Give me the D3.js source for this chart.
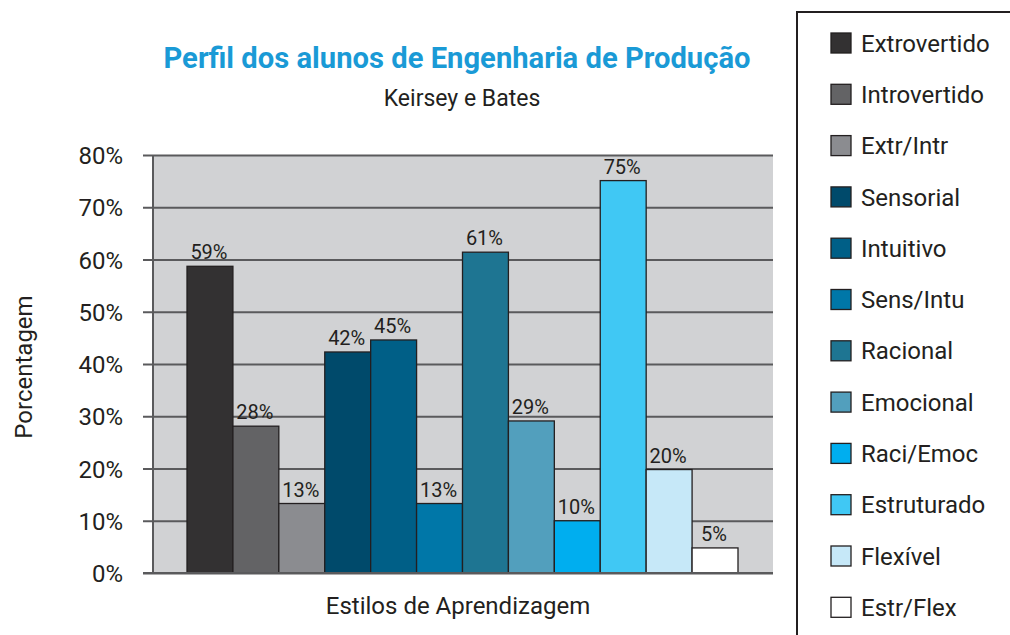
<!DOCTYPE html>
<html>
<head>
<meta charset="utf-8">
<script src="https://cdn.jsdelivr.net/npm/d3@7"></script>
<style>
  body { margin: 0; background: #fff; }
  text { font-family: Roboto, "Liberation Sans", sans-serif; }
</style>
</head>
<body>
<div id="chart"></div>
<script>
// estilos de aprendizagem (Keirsey e Bates)
var categories = ['Extrovertido', 'Introvertido', 'Extr/Intr', 'Sensorial', 'Intuitivo', 'Sens/Intu',
                  'Racional', 'Emocional', 'Raci/Emoc', 'Estruturado', 'Flexível', 'Estr/Flex']
var values = [58.7, 28.1, 13.3, 42.3, 44.6, 13.3, 61.4, 29.1, 10, 75.1, 19.8, 4.8]
var colors = ['#333132', '#636365', '#8b8c90', '#004a6b', '#005f87', '#0077a8',
              '#1e7592', '#529fbd', '#00aeef', '#40c8f4', '#c6e8f8', '#ffffff']
var yTicks = [0, 10, 20, 30, 40, 50, 60, 70, 80]

var w = 1010, h = 635

var svg = d3.select('#chart').append('svg').attr('width', w).attr('height', h)

var plotL = 153, plotR = 773, plotT = 155, plotB = 573

var y = d3.scaleLinear().domain([0, 80]).range([plotB, plotT])
var x = d3.scaleBand().domain(categories).range([187, 738]).padding(0)

// plot background
svg.append('rect').attr('x', plotL).attr('y', plotT).attr('width', plotR - plotL).attr('height', plotB - plotT)
  .attr('fill', '#d1d2d4')

// gridlines + ticks
var yAxis = d3.axisLeft(y).tickValues(yTicks).tickSize(-(plotR - plotL) - 10).tickPadding(22)
  .tickFormat(function (d) { return d + '%' })
var gy = svg.append('g').attr('transform', 'translate(' + plotR + ',0)')
gy.call(yAxis)
gy.select('.domain').remove()
gy.selectAll('.tick line').attr('x1', -(plotR - plotL) - 10).attr('x2', 0)
  .attr('stroke', '#5a5a5c').attr('stroke-width', 2)
gy.selectAll('.tick text').attr('x', -(plotR - plotL) - 30).attr('dy', '0.36em')
  .attr('font-size', 24).attr('fill', '#231f20')

// left border
svg.append('line').attr('x1', plotL).attr('x2', plotL).attr('y1', plotT).attr('y2', plotB)
  .attr('stroke', '#5a5a5c').attr('stroke-width', 2)

// bars
svg.append('g').selectAll('rect').data(values).enter().append('rect')
  .attr('x', function (d, i) { return x(categories[i]) })
  .attr('y', function (d) { return y(d) })
  .attr('width', x.bandwidth())
  .attr('height', function (d) { return plotB - y(d) })
  .attr('fill', function (d, i) { return colors[i] })
  .attr('stroke', '#231f20').attr('stroke-width', 1.3)

// value labels
svg.append('g').selectAll('text').data(values).enter().append('text')
  .attr('x', function (d, i) { return x(categories[i]) + x.bandwidth() / 2 - 1 })
  .attr('y', function (d) { return y(d) - 7 })
  .attr('text-anchor', 'middle').attr('font-size', 20).attr('fill', '#231f20')
  .text(function (d) { return Math.round(d) + '%' })

// baseline
svg.append('line').attr('x1', plotL - 10).attr('x2', plotR).attr('y1', plotB).attr('y2', plotB)
  .attr('stroke', '#5a5a5c').attr('stroke-width', 2)

// titles
svg.append('text').attr('x', 457).attr('y', 68).attr('text-anchor', 'middle')
  .attr('font-size', 29).attr('font-weight', 'bold').attr('fill', '#1a9ad6')
  .attr('textLength', 587).attr('lengthAdjust', 'spacingAndGlyphs')
  .text('Perfil dos alunos de Engenharia de Produção')
svg.append('text').attr('x', 462).attr('y', 106).attr('text-anchor', 'middle')
  .attr('font-size', 23).attr('fill', '#231f20').text('Keirsey e Bates')
svg.append('text').attr('x', 458).attr('y', 614).attr('text-anchor', 'middle')
  .attr('font-size', 24).attr('fill', '#231f20').text('Estilos de Aprendizagem')
svg.append('text').attr('transform', 'translate(32,367) rotate(-90)').attr('text-anchor', 'middle')
  .attr('font-size', 24).attr('fill', '#231f20').text('Porcentagem')

// legend
var lg = svg.append('g')
lg.append('rect').attr('x', 797).attr('y', 12).attr('width', 230).attr('height', 640)
  .attr('fill', '#fff').attr('stroke', '#231f20').attr('stroke-width', 2)
var items = lg.selectAll('g.item').data(categories).enter().append('g')
  .attr('transform', function (d, i) { return 'translate(831,' + (33 + i * 51.3) + ')' })
items.append('rect').attr('width', 20).attr('height', 20)
  .attr('fill', function (d, i) { return colors[i] })
  .attr('stroke', '#231f20').attr('stroke-width', 1.3)
items.append('text').attr('x', 30).attr('y', 10).attr('dy', '0.36em')
  .attr('font-size', 24).attr('fill', '#231f20')
  .text(function (d) { return d })
</script>
</body>
</html>
